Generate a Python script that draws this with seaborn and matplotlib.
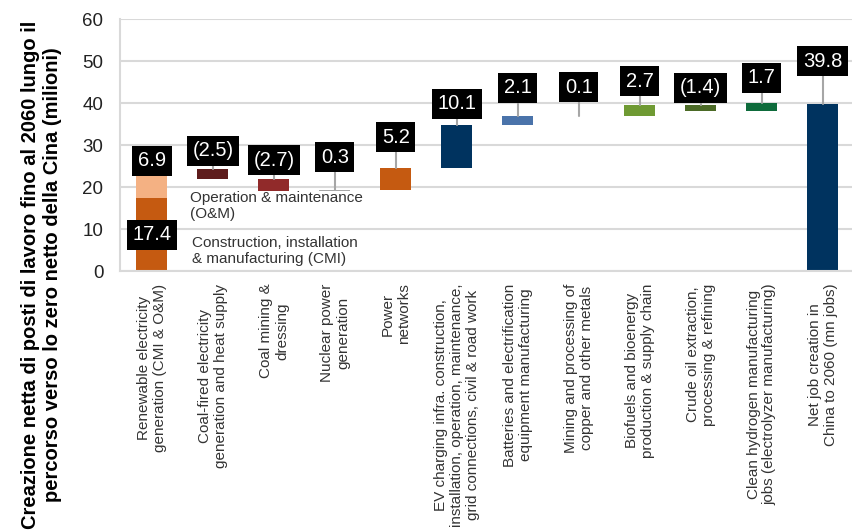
import numpy as np
import seaborn as sns
import matplotlib.pyplot as plt

categories = [
    "Renewable electricity\ngeneration (CMI & O&M)",
    "Coal-fired electricity\ngeneration and heat supply",
    "Coal mining &\ndressing",
    "Nuclear power\ngeneration",
    "Power\nnetworks",
    "EV charging infra. construction,\ninstallation, operation, maintenance,\ngrid connections, civil & road work",
    "Batteries and electrification\nequipment manufacturing",
    "Mining and processing of\ncopper and other metals",
    "Biofuels and bioenergy\nproduction & supply chain",
    "Crude oil extraction,\nprocessing & refining",
    "Clean hydrogen manufacturing\njobs (electrolyzer manufacturing)",
    "Net job creation in\nChina to 2060 (mn jobs)",
]
renewable_cmi = 17.4
renewable_om = 6.9
changes = [-2.5, -2.7, 0.3, 5.2, 10.1, 2.1, 0.1, 2.7, -1.4, 1.7]
net_total = 39.8

colors = ["#c55a11", "#5e1c1c", "#912a2a", "#a6a6a6", "#c55a11", "#00335f",
          "#4a73aa", "#9dc3e6", "#6f9a33", "#4b6a26", "#0e6b3b", "#00335f"]
om_color = "#f4b183"

# how far above the bar top each value box sits (data units)
label_lift = [None, 4.3, 4.6, 7.7, 7.3, 5.1, 6.8, 6.9, 5.6, 4.0, 6.1, 10.2]

# waterfall geometry
start = renewable_cmi + renewable_om
bottoms = [0.0]
heights = [renewable_cmi]
level = start
for c in changes:
    bottoms.append(level)
    heights.append(c)
    level += c
bottoms.append(0.0)
heights.append(net_total)
tops = [max(b, b + h) for b, h in zip(bottoms, heights)]
tops[0] = start

sns.set_theme(style="white")
plt.rcParams["font.family"] = ["Liberation Sans", "DejaVu Sans"]

fig = plt.figure(figsize=(8.52, 5.31), dpi=100)
ax = fig.add_axes([0.141, 0.4896, 0.859, 0.4746])

sns.barplot(x=categories, y=heights, bottom=bottoms, color="gray",
            width=0.51, errorbar=None, saturation=1, ax=ax)
for patch, c in zip(ax.patches, colors):
    patch.set_facecolor(c)
    patch.set_edgecolor("none")
sns.barplot(x=categories[:1], y=[renewable_om], bottom=[renewable_cmi], color=om_color,
            width=0.51, errorbar=None, saturation=1, ax=ax)
ax.patches[-1].set_edgecolor("none")

ax.set_xlim(-0.52, 11.48)
ax.set_ylim(0, 60)
ax.set_yticks(range(0, 61, 10))
ax.yaxis.grid(True, color="#d9d9d9", lw=1.5)
ax.set_axisbelow(True)
for s in ["top", "right"]:
    ax.spines[s].set_visible(False)
for s in ["left", "bottom"]:
    ax.spines[s].set_color("#d9d9d9")
    ax.spines[s].set_linewidth(1.5)
ax.tick_params(axis="y", length=0, pad=12, labelsize=13.5, labelcolor="#222222")
ax.tick_params(axis="x", length=0, pad=9, labelsize=11, labelcolor="#333333")
ax.set_xticks(range(len(categories)))
ax.set_xticklabels(categories, rotation=90, ha="center", va="top", multialignment="center")
ax.set_xlabel("")

box = dict(boxstyle="square,pad=0.28", facecolor="black", edgecolor="none")
values = [renewable_om] + changes + [net_total]
for i, v in enumerate(values):
    txt = f"({abs(v):.1f})" if v < 0 else f"{v:.1f}"
    if i == 0:
        y = 26.2
    else:
        y = tops[i] + label_lift[i]
        ax.plot([i, i], [tops[i], y], color="#a6a6a6", lw=1.5, zorder=3)
    ax.text(i, y, txt, ha="center", va="center", color="white", fontsize=14.5,
            bbox=box, zorder=4)
ax.text(0, 8.6, f"{renewable_cmi:.1f}", ha="center", va="center", color="white",
        fontsize=14.5, bbox=box, zorder=4)

ax.text(0.63, 15.5, "Operation & maintenance\n(O&M)", ha="left", va="center",
        fontsize=11, color="#333333")
ax.text(0.66, 4.8, "Construction, installation\n& manufacturing (CMI)", ha="left",
        va="center", fontsize=11, color="#333333")

fig.text(0.049, 0.482,
         "Creazione netta di posti di lavoro fino al 2060 lungo il\n"
         "percorso verso lo zero netto della Cina (milioni)",
         rotation=90, ha="center", va="center", multialignment="center",
         fontsize=14.5, fontweight="bold", color="black")

fig.savefig("out.png", dpi=100)
